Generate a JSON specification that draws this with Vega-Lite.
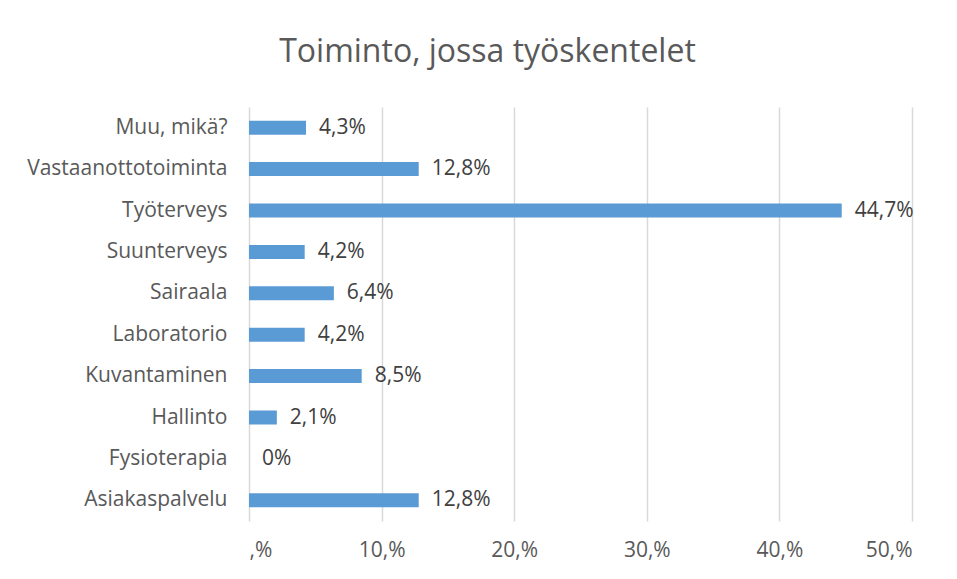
{
  "$schema": "https://vega.github.io/schema/vega-lite/v6.json",
  "autosize": "none",
  "width": 663,
  "height": 414,
  "padding": {"left": 249, "top": 107, "right": 45, "bottom": 58},
  "background": "white",
  "title": {
    "text": "Toiminto, jossa työskentelet",
    "font": "Open Sans",
    "fontSize": 32,
    "fontWeight": "normal",
    "color": "#595959",
    "anchor": "middle",
    "dx": -93,
    "offset": 38
  },
  "data": {
    "values": [
      {"category": "Muu, mikä?", "value": 4.3, "label": "4,3%"},
      {"category": "Vastaanottotoiminta", "value": 12.8, "label": "12,8%"},
      {"category": "Työterveys", "value": 44.7, "label": "44,7%"},
      {"category": "Suunterveys", "value": 4.2, "label": "4,2%"},
      {"category": "Sairaala", "value": 6.4, "label": "6,4%"},
      {"category": "Laboratorio", "value": 4.2, "label": "4,2%"},
      {"category": "Kuvantaminen", "value": 8.5, "label": "8,5%"},
      {"category": "Hallinto", "value": 2.1, "label": "2,1%"},
      {"category": "Fysioterapia", "value": 0, "label": "0%"},
      {"category": "Asiakaspalvelu", "value": 12.8, "label": "12,8%"}
    ]
  },
  "encoding": {
    "y": {
      "field": "category",
      "type": "nominal",
      "sort": null,
      "scale": {"paddingInner": 0, "paddingOuter": 0},
      "axis": {
        "title": null,
        "domain": false,
        "ticks": false,
        "labelPadding": 22,
        "labelLimit": 400,
        "labelFont": "Open Sans",
        "labelFontSize": 21,
        "labelColor": "#595959"
      }
    },
    "x": {
      "field": "value",
      "type": "quantitative",
      "scale": {"domain": [0, 50], "nice": false},
      "axis": {
        "title": null,
        "values": [0, 10, 20, 30, 40, 50],
        "labelExpr": "datum.value == 0 ? ',%' : datum.value + ',%'",
        "domain": false,
        "ticks": false,
        "grid": true,
        "gridColor": "#d9d9d9",
        "gridWidth": 1.5,
        "labelPadding": 18,
        "labelFont": "Open Sans",
        "labelFontSize": 21,
        "labelColor": "#595959"
      }
    }
  },
  "layer": [
    {"mark": {"type": "bar", "color": "#5b9bd5", "size": 14}},
    {
      "mark": {"type": "text", "align": "left", "dx": 13, "font": "Open Sans", "fontSize": 21, "color": "#404040"},
      "encoding": {"text": {"field": "label"}}
    }
  ],
  "config": {"view": {"stroke": null}}
}
